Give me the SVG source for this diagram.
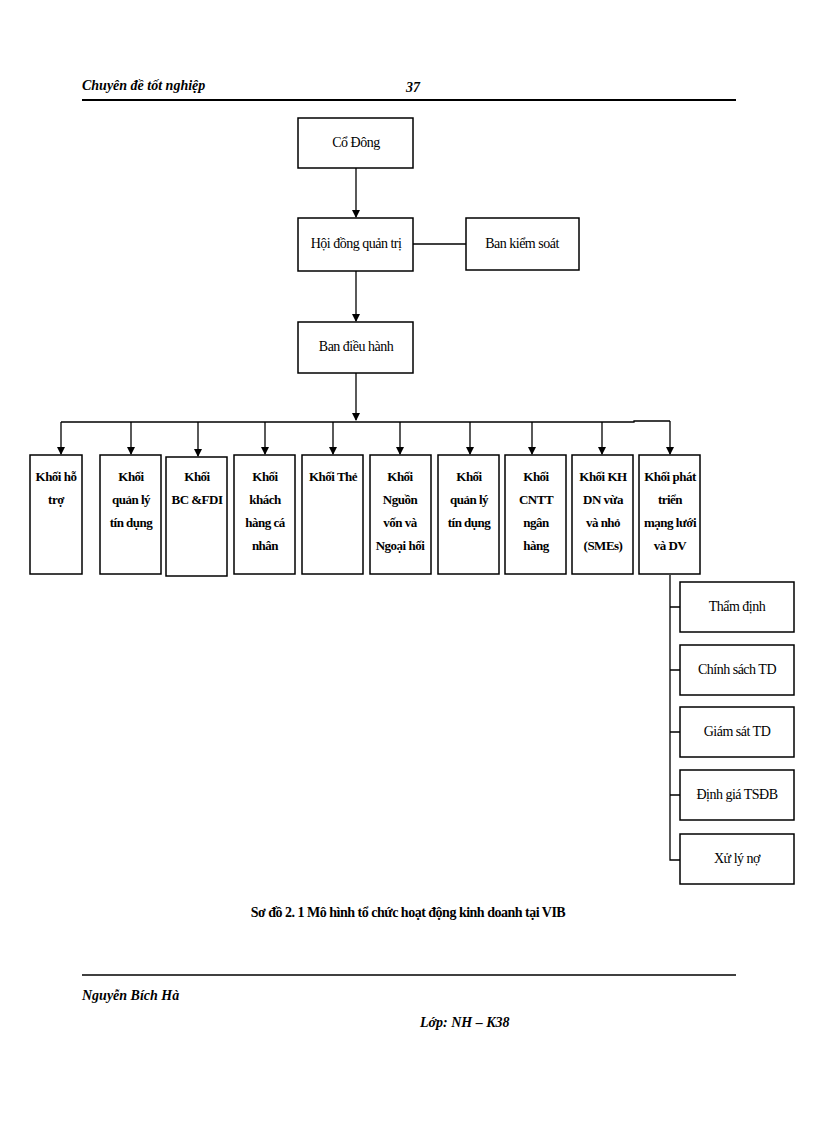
<svg xmlns="http://www.w3.org/2000/svg" width="816" height="1123" viewBox="0 0 816 1123">
<style>
.b{fill:#fff;stroke:#000;stroke-width:1.5}
.t{font-family:"Liberation Serif",serif;font-size:14px;text-anchor:middle;letter-spacing:-0.5px}
.tb{font-family:"Liberation Serif",serif;font-size:13px;font-weight:bold;text-anchor:middle;letter-spacing:-0.5px}
.h{font-family:"Liberation Serif",serif;font-size:14px;font-weight:bold;font-style:italic}
.c{stroke:#000;stroke-width:1.3;fill:none}
</style>
<defs><marker id="a" markerWidth="8" markerHeight="8" refX="7" refY="4" orient="auto" markerUnits="userSpaceOnUse"><path d="M0,0L8,4L0,8z" fill="#000"/></marker></defs>
<rect width="816" height="1123" fill="#fff"/>
<text class="h" x="82" y="90">Chuyên đề tốt nghiệp</text>
<text class="h" x="406" y="92">37</text>
<line x1="82" y1="100" x2="736" y2="100" stroke="#000" stroke-width="2"/>
<g id="connectors">
<line class="c" x1="356" y1="168" x2="356" y2="217" marker-end="url(#a)"/>
<line class="c" x1="413" y1="244" x2="466" y2="244"/>
<line class="c" x1="356" y1="271" x2="356" y2="321" marker-end="url(#a)"/>
<line class="c" x1="356" y1="373" x2="356" y2="420" marker-end="url(#a)"/>
<path class="c" d="M61,422H634V421H670"/>
<line class="c" x1="61" y1="422" x2="61" y2="454" marker-end="url(#a)"/>
<line class="c" x1="131" y1="422" x2="131" y2="454" marker-end="url(#a)"/>
<line class="c" x1="198" y1="422" x2="198" y2="456" marker-end="url(#a)"/>
<line class="c" x1="265" y1="422" x2="265" y2="454" marker-end="url(#a)"/>
<line class="c" x1="333" y1="422" x2="333" y2="454" marker-end="url(#a)"/>
<line class="c" x1="400" y1="422" x2="400" y2="454" marker-end="url(#a)"/>
<line class="c" x1="470" y1="422" x2="470" y2="454" marker-end="url(#a)"/>
<line class="c" x1="532" y1="422" x2="532" y2="454" marker-end="url(#a)"/>
<line class="c" x1="602" y1="422" x2="602" y2="454" marker-end="url(#a)"/>
<line class="c" x1="670" y1="421" x2="670" y2="454" marker-end="url(#a)"/>
<path class="c" d="M670,575V860H680M670,607H680M670,670H680M670,732H680M670,795H680"/>
</g>
<g id="co-dong"><rect class="b" x="298" y="118" width="115" height="50"/><text class="t" x="356" y="147">Cổ Đông</text></g>
<g id="hdqt"><rect class="b" x="298" y="218" width="115" height="53"/><text class="t" x="356" y="248">Hội đồng quản trị</text></g>
<g id="bks"><rect class="b" x="466" y="218" width="113" height="52"/><text class="t" x="522" y="248">Ban kiểm soát</text></g>
<g id="bdh"><rect class="b" x="298" y="322" width="115" height="51"/><text class="t" x="356" y="351">Ban điều hành</text></g>
<g id="k1"><rect class="b" x="30" y="455" width="52" height="119"/><text class="tb" x="56" y="481">Khối hỗ<tspan x="56" dy="23">trợ</tspan></text></g>
<g id="k2"><rect class="b" x="100" y="455" width="61" height="119"/><text class="tb" x="131" y="481">Khối<tspan x="131" dy="23">quản lý</tspan><tspan x="131" dy="23">tín dụng</tspan></text></g>
<g id="k3"><rect class="b" x="166" y="457" width="61" height="119"/><text class="tb" x="197" y="481">Khối<tspan x="197" dy="23">BC &amp;FDI</tspan></text></g>
<g id="k4"><rect class="b" x="234" y="455" width="61" height="119"/><text class="tb" x="265" y="481">Khối<tspan x="265" dy="23">khách</tspan><tspan x="265" dy="23">hàng cá</tspan><tspan x="265" dy="23">nhân</tspan></text></g>
<g id="k5"><rect class="b" x="302" y="455" width="61" height="119"/><text class="tb" x="333" y="481">Khối Thẻ</text></g>
<g id="k6"><rect class="b" x="370" y="455" width="61" height="119"/><text class="tb" x="400" y="481">Khối<tspan x="400" dy="23">Nguồn</tspan><tspan x="400" dy="23">vốn và</tspan><tspan x="400" dy="23">Ngoại hối</tspan></text></g>
<g id="k7"><rect class="b" x="438" y="455" width="61" height="119"/><text class="tb" x="469" y="481">Khối<tspan x="469" dy="23">quản lý</tspan><tspan x="469" dy="23">tín dụng</tspan></text></g>
<g id="k8"><rect class="b" x="505" y="455" width="61" height="119"/><text class="tb" x="536" y="481">Khối<tspan x="536" dy="23">CNTT</tspan><tspan x="536" dy="23">ngân</tspan><tspan x="536" dy="23">hàng</tspan></text></g>
<g id="k9"><rect class="b" x="572" y="455" width="61" height="119"/><text class="tb" x="603" y="481">Khối KH<tspan x="603" dy="23">DN vừa</tspan><tspan x="603" dy="23">và nhỏ</tspan><tspan x="603" dy="23">(SMEs)</tspan></text></g>
<g id="k10"><rect class="b" x="639" y="455" width="61" height="119"/><text class="tb" x="670" y="481">Khối phát<tspan x="670" dy="23">triển</tspan><tspan x="670" dy="23">mạng lưới</tspan><tspan x="670" dy="23">và DV</tspan></text></g>
<g id="s1"><rect class="b" x="680" y="582" width="114" height="50"/><text class="t" x="737" y="611">Thẩm định</text></g>
<g id="s2"><rect class="b" x="680" y="645" width="114" height="50"/><text class="t" x="737" y="674">Chính sách TD</text></g>
<g id="s3"><rect class="b" x="680" y="707" width="114" height="50"/><text class="t" x="737" y="736">Giám sát TD</text></g>
<g id="s4"><rect class="b" x="680" y="770" width="114" height="50"/><text class="t" x="737" y="799">Định giá TSĐB</text></g>
<g id="s5"><rect class="b" x="680" y="834" width="114" height="50"/><text class="t" x="737" y="863">Xử lý nợ</text></g>
<text class="tb" x="408" y="917" style="font-size:14px">Sơ đồ 2. 1 Mô hình tổ chức hoạt động kinh doanh tại VIB</text>
<line x1="82" y1="975" x2="736" y2="975" stroke="#000" stroke-width="1.5"/>
<text class="h" x="82" y="1000">Nguyễn Bích Hà</text>
<text class="h" x="420" y="1027">Lớp: NH – K38</text>
</svg>
